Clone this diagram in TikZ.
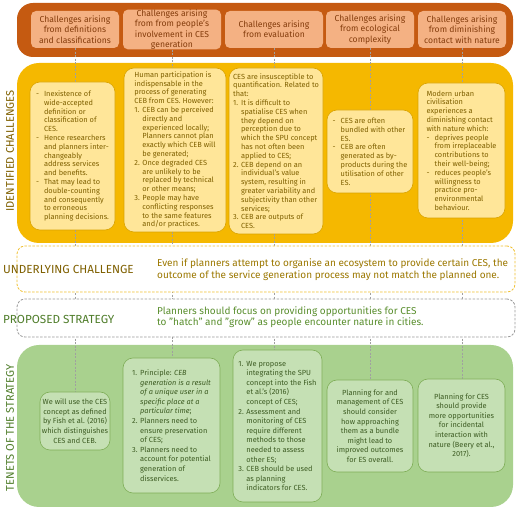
\documentclass[tikz,border=0pt]{standalone}
\usepackage{fontspec}
\setmainfont{Fira Sans}
\definecolor{orgband}{HTML}{C55A11}
\definecolor{orgbox}{HTML}{F4B183}
\definecolor{orgtext}{HTML}{843C0C}
\definecolor{yelband}{HTML}{F5B800}
\definecolor{yelbox}{HTML}{FFE699}
\definecolor{yelborder}{HTML}{D9A300}
\definecolor{yeltext}{HTML}{7F6000}
\definecolor{undtext}{HTML}{9C7800}
\definecolor{unddash}{HTML}{F0C030}
\definecolor{grnband}{HTML}{A9D18E}
\definecolor{grnbox}{HTML}{C5E0B4}
\definecolor{grnborder}{HTML}{7FAE58}
\definecolor{grntext}{HTML}{3D5C23}
\definecolor{grnlabel}{HTML}{4F7D2A}
\definecolor{proptext}{HTML}{5A8F2E}
\definecolor{propdash}{HTML}{9A9A9A}
\definecolor{vline}{HTML}{A0A0A0}
\pgfdeclarelayer{bg}\pgfdeclarelayer{mid}\pgfsetlayers{bg,mid,main}
\newcommand\itm[1]{\makebox[8pt][l]{#1}}
\newcommand\cnt{\hspace*{8pt}}
\begin{document}
\begin{tikzpicture}[x=1pt,y=-1pt,
  band/.style={rectangle, rounded corners=18pt, inner sep=0pt},
  hbox/.style={rectangle, fill=orgbox, rounded corners=5pt, text=orgtext, align=center,
    font=\fontsize{8.6}{10.4}\selectfont, inner sep=0pt},
  cbox/.style={rectangle, fill=yelbox, draw=yelborder, line width=0.6pt, rounded corners=10pt,
    text=yeltext, align=left, font=\fontsize{7.4}{8.8}\selectfont, inner sep=0pt},
  tbox/.style={rectangle, fill=grnbox, draw=grnborder, line width=0.6pt, rounded corners=10pt,
    text=grntext, font=\fontsize{7.4}{9.6}\selectfont, inner sep=0pt},
  dbox/.style={rectangle, fill=white, rounded corners=8pt, line width=0.8pt,
    dash pattern=on 2.5pt off 1.5pt, inner sep=0pt},
  sidelabel/.style={font=\fontsize{11.7}{13}\selectfont, inner sep=0pt},
  vlabel/.style={font=\fontsize{11.1}{13}\selectfont, inner sep=0pt, rotate=90},
  vconn/.style={draw=vline, line width=0.6pt, dash pattern=on 2pt off 1.5pt}]
\useasboundingbox (0,0) rectangle (520,510);

\begin{pgfonlayer}{bg}
\node[band, fill=orgband, minimum width=496pt, minimum height=54pt, rounded corners=16pt] (oband) at (265,30) {};
\node[band, fill=yelband, minimum width=496pt, minimum height=180pt, rounded corners=22pt] (yband) at (265,153) {};
\node[band, fill=grnband, minimum width=496pt, minimum height=162pt, rounded corners=22pt] (gband) at (265,426) {};
\end{pgfonlayer}

% headers
\node[hbox, minimum width=88pt, minimum height=37pt] (h1) at (75,29.5) {Challenges arising\\from definitions\\and classifications};
\node[hbox, minimum width=98pt, minimum height=37pt] (h2) at (172,29.5) {Challenges arising\\from from people's\\involvement in CES\\generation};
\node[hbox, minimum width=98pt, minimum height=37pt] (h3) at (274,29.5) {Challenges arising\\from evaluation};
\node[hbox, minimum width=88pt, minimum height=37pt] (h4) at (370,29.5) {Challenges arising\\from ecological\\complexity};
\node[hbox, minimum width=88pt, minimum height=37pt] (h5) at (462,29.5) {Challenges arising\\from diminishing\\contact with nature};

% identified challenges
\node[cbox, minimum width=85pt, minimum height=148pt] (c1) at (72.5,156) {%
\itm{-}Inexistence of\\
\cnt wide-accepted\\
\cnt definition or\\
\cnt classification of\\
\cnt CES.\\
\itm{-}Hence researchers\\
\cnt and planners inter-\\
\cnt changeably\\
\cnt address services\\
\cnt and benefits.\\
\itm{-}That may lead to\\
\cnt double-counting\\
\cnt and consequently\\
\cnt to erroneous\\
\cnt planning decisions.};
\node[cbox, minimum width=102pt, minimum height=164pt] (c2) at (175,150) {%
Human participation is\\
indispensable in the\\
process of generating\\
CEB from CES. However:\\
\itm{1.}CEB can be perceived\\
\cnt directly and\\
\cnt experienced locally;\\
\cnt Planners cannot plan\\
\cnt exactly which CEB will\\
\cnt be generated;\\
\itm{2.}Once degraded CES\\
\cnt are unlikely to be\\
\cnt replaced by technical\\
\cnt or other means;\\
\itm{3.}People may have\\
\cnt conflicting responses\\
\cnt to the same features\\
\cnt and/or practices.};
\node[cbox, minimum width=94pt, minimum height=166pt] (c3) at (276,151) {%
CES are insusceptible to\\
quantification. Related to\\
that:\\
\itm{1.}It is difficult to\\
\cnt spatialise CES when\\
\cnt they depend on\\
\cnt perception due to\\
\cnt which the SPU concept\\
\cnt has not often been\\
\cnt applied to CES;\\
\itm{2.}CEB depend on an\\
\cnt individual's value\\
\cnt system, resulting in\\
\cnt greater variability and\\
\cnt subjectivity than other\\
\cnt services;\\
\itm{3.}CEB are outputs of\\
\cnt CES.};
\node[cbox, minimum width=86pt, minimum height=83pt] (c4) at (370,151.5) {%
\itm{-}CES are often\\
\cnt bundled with other\\
\cnt ES.\\
\itm{-}CEB are often\\
\cnt generated as by-\\
\cnt products during the\\
\cnt utilisation of other\\
\cnt ES.};
\node[cbox, minimum width=87pt, minimum height=135pt] (c5) at (461.5,150.5) {%
Modern urban\\
civilisation\\
experiences a\\
diminishing contact\\
with nature which:\\
\itm{-}deprives people\\
\cnt from irreplaceable\\
\cnt contributions to\\
\cnt their well-being;\\
\itm{-}reduces people's\\
\cnt willingness to\\
\cnt practice pro-\\
\cnt environmental\\
\cnt behaviour.};

% underlying and proposed
\node[dbox, draw=unddash, minimum width=498pt, minimum height=46pt] (und) at (266,269) {};
\node[dbox, draw=propdash, minimum width=498pt, minimum height=38pt] (prop) at (266,318) {};
\node[sidelabel, text=yeltext, anchor=west] (undlab) at (3,269) {UNDERLYING CHALLENGE};
\node[sidelabel, text=grnlabel, anchor=west] (proplab) at (3,319.5) {PROPOSED STRATEGY};
\node[anchor=west, align=left, text=undtext, inner sep=0pt, font=\fontsize{10}{11.6}\selectfont] (undtxt) at (157,269.5)
  {Even if planners attempt to organise an ecosystem to provide certain CES, the\\
   outcome of the service generation process may not match the planned one.};
\node[anchor=west, align=left, text=proptext, inner sep=0pt, font=\fontsize{10}{11}\selectfont] (proptxt) at (157,317.5)
  {Planners should focus on providing opportunities for CES\\
   to "hatch" and "grow" as people encounter nature in cities.};

% tenets
\node[tbox, align=center, minimum width=70pt, minimum height=58pt] (t1) at (75,421) {%
We will use the CES\\concept as defined\\by Fish et al. (2016)\\which distinguishes\\CES and CEB.};
\node[tbox, align=left, minimum width=97pt, minimum height=135pt] (t2) at (171.5,425.5) {%
\itm{1.}Principle: \textit{CEB}\\
\cnt\textit{generation is a result}\\
\cnt\textit{of a unique user in a}\\
\cnt\textit{specific place at a}\\
\cnt\textit{particular time};\\
\itm{2.}Planners need to\\
\cnt ensure preservation\\
\cnt of CES;\\
\itm{3.}Planners need to\\
\cnt account for potential\\
\cnt generation of\\
\cnt disservices.};
\node[tbox, align=left, minimum width=89pt, minimum height=152pt] (t3) at (277.5,426) {%
\itm{1.}We propose\\
\cnt integrating the SPU\\
\cnt concept into the Fish\\
\cnt et al.'s (2016)\\
\cnt concept of CES;\\
\itm{2.}Assessment and\\
\cnt monitoring of CES\\
\cnt require different\\
\cnt methods to those\\
\cnt needed to assess\\
\cnt other ES;\\
\itm{3.}CEB should be used\\
\cnt as planning\\
\cnt indicators for CES.};
\node[tbox, align=center, minimum width=86pt, minimum height=92pt] (t4) at (370,426) {%
Planning for and\\management of CES\\should consider\\how approaching\\them as a bundle\\might lead to\\improved outcomes\\for ES overall.};
\node[tbox, align=center, minimum width=87pt, minimum height=93pt] (t5) at (461.5,425.5) {%
Planning for CES\\should provide\\more opportunities\\for incidental\\interaction with\\nature (Beery et al.,\\2017).};

% side labels
\node[vlabel, text=yeltext] (idlab) at (10,151) {IDENTIFIED CHALLENGES};
\node[vlabel, text=grnlabel] (tenlab) at (10,428) {TENETS OF THE STRATEGY};

% connectors
\begin{pgfonlayer}{mid}
\draw[vconn] (h1.south) -- (h1.south |- t1.north);
\draw[vconn] (h2.south) -- (h2.south |- t2.north);
\draw[vconn] (h3.south) -- (h3.south |- t3.north);
\draw[vconn] (h4.south) -- (h4.south |- t4.north);
\draw[vconn] (h5.south) -- (h5.south |- t5.north);
\end{pgfonlayer}
\end{tikzpicture}
\end{document}
